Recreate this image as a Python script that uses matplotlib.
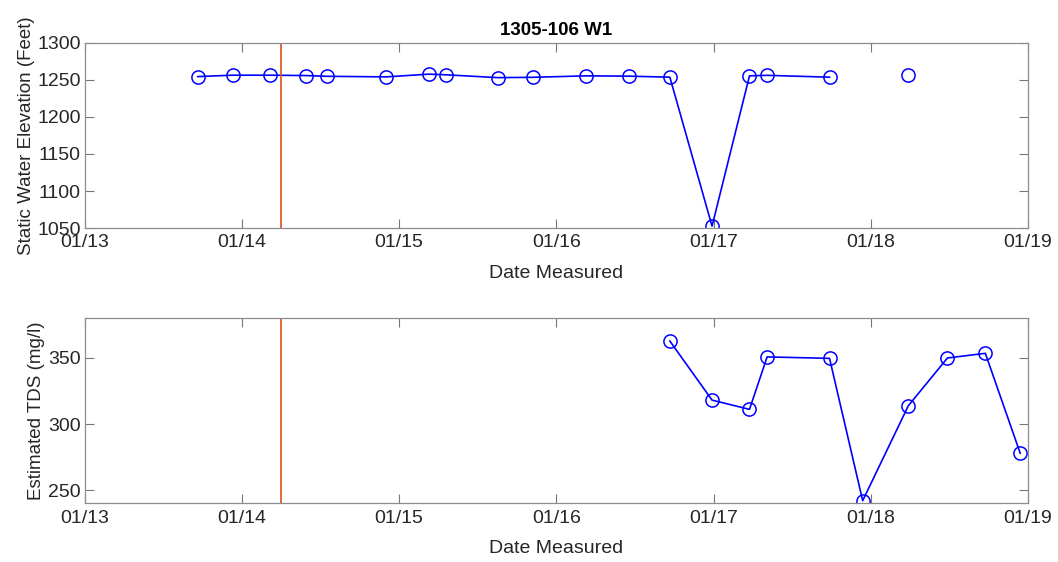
import datetime as dt
import matplotlib.pyplot as plt
import matplotlib.dates as mdates

plt.rcParams['font.family'] = ['Liberation Sans', 'DejaVu Sans']

# static water elevation readings
swe_dates = ['2013-09-20', '2013-12-10', '2014-03-07', '2014-05-30', '2014-07-17',
             '2014-12-02', '2015-03-11', '2015-04-20', '2015-08-18', '2015-11-07',
             '2016-03-10', '2016-06-17', '2016-09-21', '2016-12-28', '2017-03-25',
             '2017-05-05', '2017-09-27']
swe_values = [1254.6, 1256.5, 1256.5, 1256.0, 1255.0,
              1254.2, 1257.9, 1257.0, 1253.2, 1253.6,
              1255.6, 1255.2, 1253.8, 1052.5, 1255.6,
              1256.3, 1253.8]
# reading after a gap (not connected)
swe_dates_gap = ['2018-03-29']
swe_values_gap = [1256.3]

# estimated TDS
tds_dates = ['2016-09-21', '2016-12-28', '2017-03-25', '2017-05-05', '2017-09-27',
             '2017-12-13', '2018-03-29', '2018-06-28', '2018-09-24', '2018-12-14']
tds_values = [362.8, 318.1, 311.1, 350.8, 349.7, 242.0, 313.8, 350.0, 353.5, 277.9]

event_date = '2014-04-01'
title = '1305-106 W1'


def to_dates(lst):
    return [dt.datetime.strptime(s, '%Y-%m-%d') for s in lst]


fig = plt.figure(figsize=(10.58, 5.62), dpi=100)
ax1 = fig.add_axes([0.0803, 0.5943, 0.8913, 0.3292])
ax2 = fig.add_axes([0.0803, 0.1044, 0.8913, 0.3292])

blue = (0, 0, 1)
orange = (0.85, 0.325, 0.098)
grey = '#262626'

ax1.plot(to_dates(swe_dates), swe_values, '-o', color=blue, mfc='none', ms=9.5, lw=1.2, mew=1.1)
ax1.plot(to_dates(swe_dates_gap), swe_values_gap, 'o', color=blue, mfc='none', ms=9.5, mew=1.1)
ax1.set_ylim(1050, 1300)
ax1.set_yticks([1050, 1100, 1150, 1200, 1250, 1300])
ax1.set_ylabel('Static Water Elevation (Feet)', fontsize=13.5, color=grey, labelpad=2)
ax1.set_title(title, fontsize=13.5, fontweight='bold', pad=6)

ax2.plot(to_dates(tds_dates), tds_values, '-o', color=blue, mfc='none', ms=9.5, lw=1.2, mew=1.1)
ax2.set_ylim(240, 380)
ax2.set_yticks([250, 300, 350])
ax2.set_ylabel('Estimated TDS (mg/l)', fontsize=13.5, color=grey, labelpad=2)

ev = to_dates([event_date])[0]
for ax in (ax1, ax2):
    ax.axvline(ev, color=orange, lw=1.2)
    ax.set_xlim(dt.datetime(2013, 1, 1), dt.datetime(2019, 1, 1))
    ax.xaxis.set_major_locator(mdates.YearLocator())
    ax.xaxis.set_major_formatter(mdates.DateFormatter('%m/%y'))
    ax.set_xlabel('Date Measured', fontsize=14, color=grey, labelpad=10)
    ax.tick_params(direction='in', top=True, right=True, labelsize=14,
                   color='#777777', length=6.5, width=0.8, labelcolor=grey, pad=3)
    ax.tick_params(axis='x', pad=4.5)
    for s in ax.spines.values():
        s.set_color('#8c8c8c')
        s.set_linewidth(0.9)

fig.savefig('out.png', dpi=100)
